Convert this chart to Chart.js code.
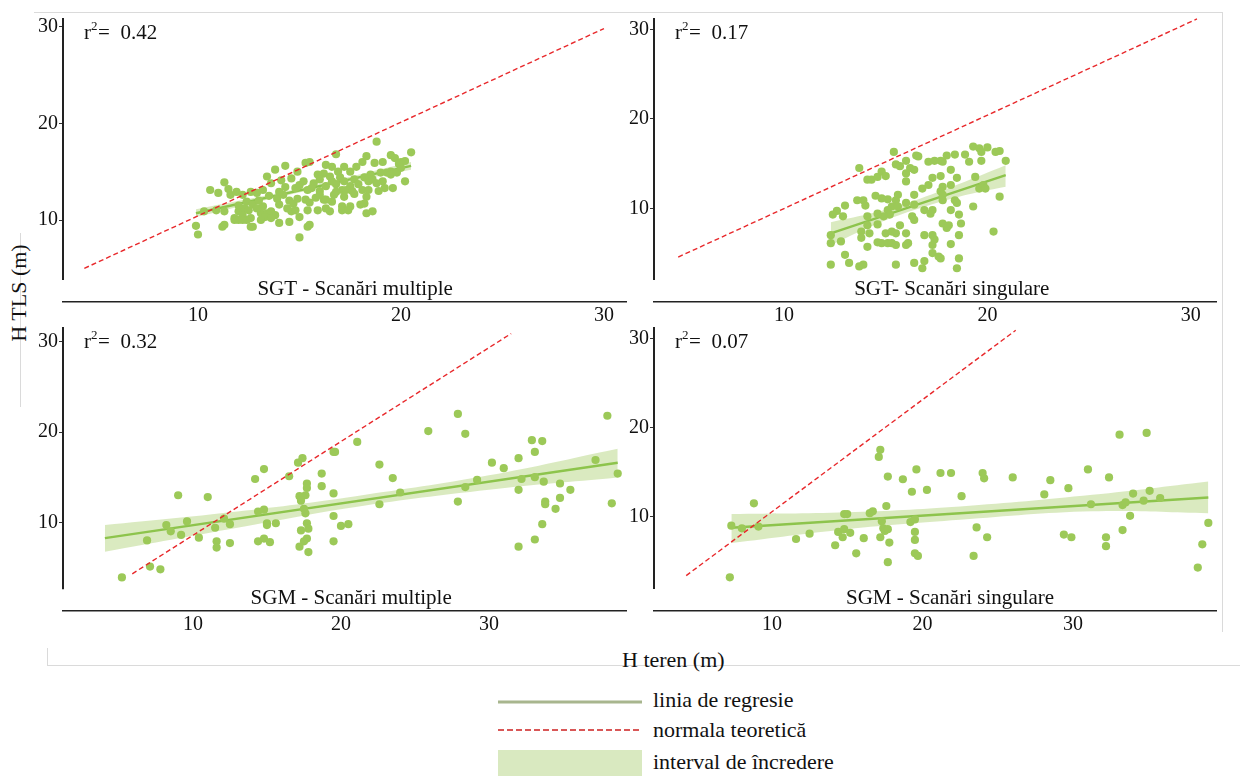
<!DOCTYPE html>
<html lang="ro">
<head>
<meta charset="UTF-8">
<title>H TLS vs H teren</title>
<script src="https://cdn.jsdelivr.net/npm/chart.js"></script>
<style>
  body {
    margin: 0;
    width: 1240px;
    height: 776px;
    position: relative;
    overflow: hidden;
    background: #fff;
    font-family: 'Liberation Serif', serif;
    color: #111;
  }
  .panel { position: absolute; }
  .rule { position: absolute; background: #dadada; }
  .txt { position: absolute; white-space: nowrap; font-size: 22px; line-height: 22px; }
  #yTitle { width: 140px; text-align: center; transform: rotate(-90deg); }
  .swatch { position: absolute; }
</style>
</head>
<body>

<!-- faint frame lines around the figure -->
<div class="rule" style="left:34px; top:12px; width:1188px; height:1px;"></div>
<div class="rule" style="left:1222px; top:12px; width:1px; height:620px;"></div>
<div class="rule" style="left:47px; top:665px; width:1193px; height:1px;"></div>
<div class="rule" style="left:47px; top:648px; width:1px; height:17px;"></div>
<div class="rule" style="left:20px; top:233px; width:1px; height:174px;"></div>

<div class="txt" id="yTitle" style="left:-51px; top:282px;">H TLS (m)</div>
<div class="txt" style="left:622px; top:649px;">H teren (m)</div>

<!-- legend -->
<svg class="swatch" style="left:498px; top:690px;" width="144" height="50">
  <line x1="0" y1="12" x2="144" y2="12" stroke="#a8b68e" stroke-width="3"/>
  <line x1="0" y1="40" x2="144" y2="40" stroke="#d95757" stroke-width="2" stroke-dasharray="6 3"/>
</svg>
<div class="swatch" style="left:498px; top:750px; width:144px; height:26px; background:#d9e9c0;"></div>
<div class="txt" style="left:653px; top:689px;">linia de regresie</div>
<div class="txt" style="left:653px; top:719px;">normala teoretică</div>
<div class="txt" style="left:653px; top:751px;">interval de încredere</div>

<script>
// ---- data (heights in metres) ----
const tickValues = [10, 20, 30];
const panelTitles = ['SGT - Scanări multiple', 'SGT- Scanări singulare', 'SGM - Scanări multiple', 'SGM - Scanări singulare'];
const rSquared = ['0.42', '0.17', '0.32', '0.07'];

// SGT, multiple scans: [H teren, H TLS]
const sgtMultiPoints = [
  [9.9,9.4],[10.0,8.5],[10.6,13.1],[11.0,12.8],[11.3,13.9],[11.5,13.2],[11.6,12.6],[11.2,9.3],[11.3,9.5],[10.3,10.9],
  [10.9,11.0],[11.3,10.9],[11.8,10.2],[12.0,10.9],[11.9,12.9],[12.2,12.6],[12.4,11.9],[12.3,11.2],[12.2,10.5],[12.5,11.0],
  [12.6,10.2],[12.4,10.0],[12.7,9.3],[12.0,10.0],[12.6,12.9],[12.9,12.8],[13.2,13.1],[13.4,14.5],[13.8,15.2],[14.3,15.6],
  [13.6,13.8],[13.2,11.4],[13.1,10.7],[13.4,10.7],[13.6,10.9],[13.3,10.3],[13.8,10.5],[14.0,11.6],[13.9,12.2],[14.2,12.6],
  [14.3,13.4],[14.1,14.1],[14.6,14.3],[14.8,13.3],[14.5,12.0],[14.7,11.7],[14.9,12.2],[14.6,10.9],[14.8,11.0],[14.0,9.7],
  [14.5,9.8],[15.0,10.3],[15.0,8.2],[15.2,14.0],[15.3,15.9],[14.9,15.0],[15.4,13.1],[15.3,12.1],[15.4,11.0],[15.4,9.3],
  [12.7,11.6],[12.9,11.2],[11.8,10.0],[12.6,9.3],[12.2,10.0],[13.1,10.0],[13.6,10.2],
  [18.8,18.1],[16.8,16.8],[15.5,16.0],[16.3,15.7],[16.6,15.5],[16.2,14.8],[15.9,14.7],[15.7,13.8],[16.0,14.2],[16.5,14.5],
  [16.9,15.0],[17.2,15.5],[17.5,15.0],[17.8,15.5],[18.1,16.0],[18.3,16.6],[18.7,15.9],[19.1,16.0],[19.5,16.7],[19.7,16.4],
  [20.0,16.0],[20.2,16.1],[20.5,17.0],[19.5,15.0],[19.3,14.9],[19.0,14.9],[18.5,14.7],[18.2,14.4],[17.7,14.2],[17.2,14.0],
  [16.8,13.7],[16.3,13.5],[16.0,13.0],[15.8,12.3],[15.5,11.8],[16.2,12.1],[16.7,12.6],[17.1,13.1],[17.5,13.5],[17.9,13.7],
  [18.1,13.1],[18.4,14.0],[18.6,14.2],[19.1,14.0],[19.5,14.7],[19.8,14.9],[20.0,15.4],[20.2,14.0],[19.6,13.3],[19.2,13.3],
  [18.9,13.0],[18.4,13.1],[18.3,12.4],[17.7,12.7],[17.3,13.1],[17.2,12.4],[16.8,12.9],[16.6,11.9],[16.3,12.1],[15.9,11.0],
  [16.3,11.2],[17.1,11.4],[17.5,11.4],[18.0,11.6],[18.2,11.7],[17.1,11.0],[17.4,11.0],[16.5,10.9],[18.3,10.7],[18.6,10.9],
  [15.5,9.5],[14.0,12.9],[15.0,13.6],[16.0,12.6],[17.0,14.4],[13.0,12.0],[14.4,11.2],[15.6,13.3],[16.6,14.0],[17.6,13.0],
  [18.8,13.8],[19.9,15.8],[12.0,11.5],[13.5,12.5]
];

// SGT, single scans
const sgtSinglePoints = [
  [15.4,16.3],[13.7,14.5],[14.1,13.2],[14.3,13.2],[14.6,13.5],[14.8,14.1],[15.0,13.6],[15.5,14.9],[15.7,14.7],[16.0,15.3],
  [16.2,14.5],[16.4,14.3],[16.5,15.9],[16.6,15.8],[16.0,13.9],[16.0,13.0],[17.1,15.2],[17.4,15.3],[17.7,15.3],[17.8,15.2],
  [18.0,15.9],[18.4,16.0],[18.9,16.0],[17.3,13.4],[17.7,13.6],[18.2,14.3],[18.5,13.4],[18.2,12.6],[17.8,12.4],[17.7,11.9],
  [17.1,12.6],[16.8,12.2],[16.4,11.5],[15.6,11.5],[15.5,10.9],[15.1,11.0],[14.8,11.1],[14.5,11.4],[13.9,10.9],[13.6,10.9],
  [13.0,10.3],[12.6,9.7],[12.9,9.1],[12.4,9.3],[15.3,10.2],[15.6,10.2],[16.0,10.6],[15.1,9.8],[15.2,9.3],[14.9,9.1],
  [14.6,9.4],[14.1,9.1],[14.6,8.2],[14.1,8.1],[16.4,10.4],[16.4,8.7],[16.3,9.1],[16.9,9.8],[17.2,9.4],[17.3,9.8],
  [17.8,11.5],[17.8,10.9],[18.4,10.9],[18.5,10.6],[18.2,9.8],[18.6,9.3],[18.7,8.3],[17.8,8.3],[18.0,7.8],[18.1,8.1],
  [18.6,7.0],[19.3,10.2],[19.4,13.5],[19.6,12.2],[19.8,12.6],[19.9,12.2],[19.3,16.9],[19.6,16.7],[19.7,16.3],[20.0,16.8],
  [20.4,16.3],[20.6,16.4],[19.7,15.3],[20.9,15.3],[20.6,11.3],[20.3,7.4],[14.0,10.3],[12.3,7.0],[12.3,6.1],[12.8,6.3],
  [13.8,7.4],[13.8,6.7],[14.1,5.7],[14.6,6.2],[14.8,6.1],[15.1,6.1],[15.3,6.1],[15.5,5.9],[15.0,7.2],[15.3,7.4],
  [15.5,7.2],[15.7,8.1],[16.0,7.2],[16.0,5.9],[16.1,6.1],[16.9,7.0],[17.3,7.0],[17.4,6.5],[17.3,5.9],[18.2,6.0],
  [17.3,5.0],[17.6,4.6],[17.7,4.4],[18.6,4.4],[18.5,3.3],[13.0,4.8],[12.3,3.7],[13.2,3.9],[13.7,3.5],[13.9,3.7],
  [15.5,3.7],[16.4,3.9],[16.8,3.3],[16.9,4.1],[14.2,7.2],[19.1,15.2]
];

// SGM, multiple scans
const sgmMultiPoints = [
  [5.2,3.9],[7.1,5.1],[7.8,4.8],[6.9,8.0],[8.2,9.7],[8.5,9.0],[9.0,13.0],[9.2,8.6],[9.6,10.1],[10.4,8.3],
  [11.0,12.8],[11.5,9.4],[11.6,7.9],[11.6,7.2],[12.1,10.4],[12.5,9.8],[12.5,7.7],[14.2,14.8],[14.8,15.9],[14.4,11.2],
  [14.8,11.4],[14.4,7.9],[14.8,8.2],[15.2,7.8],[15.0,9.9],[15.0,9.7],[15.6,9.9],[16.5,15.1],[17.1,16.6],[17.4,17.1],
  [17.7,14.3],[17.7,13.8],[17.6,13.0],[17.2,12.9],[17.3,12.4],[17.5,11.5],[17.6,11.0],[17.7,9.9],[17.8,9.3],[17.3,9.1],
  [17.7,8.2],[17.5,7.9],[17.2,7.3],[17.8,6.7],[18.7,15.4],[18.7,14.0],[19.5,17.8],[19.6,17.8],[19.5,13.2],[19.5,10.7],
  [19.5,7.9],[20.0,9.6],[20.5,9.8],[21.1,18.9],[22.6,16.4],[23.5,14.9],[22.6,12.0],[24.0,13.3],[25.9,20.1],[27.9,22.0],
  [28.4,19.8],[27.9,12.3],[28.4,13.9],[29.2,14.7],[30.2,16.6],[31.0,16.0],[32.0,17.1],[32.9,19.1],[33.6,19.0],[33.1,17.8],
  [32.2,14.8],[33.1,15.0],[32.0,13.6],[33.7,14.5],[33.8,12.3],[33.8,12.0],[34.5,11.5],[34.8,14.3],[34.8,12.7],[35.5,13.6],
  [33.6,9.8],[33.1,8.1],[32.0,7.3],[37.2,16.9],[38.0,21.8],[38.7,15.4],[38.3,12.1]
];

// SGM, single scans
const sgmSinglePoints = [
  [7.2,3.2],[7.3,9.0],[8.0,8.7],[8.8,11.5],[9.1,8.9],[11.6,7.5],[12.5,8.1],[14.2,6.8],[14.4,8.3],[14.8,8.6],
  [14.7,7.7],[14.8,10.3],[15.0,10.3],[15.2,8.2],[15.6,5.9],[16.1,7.6],[16.5,10.4],[16.7,10.6],[17.1,16.7],[17.2,17.5],
  [17.6,11.2],[17.7,14.5],[17.3,9.5],[17.4,8.7],[17.5,8.4],[17.7,8.6],[17.2,7.7],[17.8,7.1],[17.7,4.9],[18.7,14.2],
  [19.3,12.8],[19.6,15.3],[19.2,9.4],[19.5,9.7],[19.5,8.3],[19.5,7.4],[19.5,5.9],[19.7,5.6],[20.3,13.0],[21.2,14.9],
  [21.9,14.9],[22.6,12.3],[23.6,8.8],[23.4,5.6],[24.3,7.7],[24.0,14.9],[24.1,14.3],[26.0,14.4],[28.1,12.5],[28.5,14.1],
  [29.4,8.0],[29.9,7.7],[29.7,13.2],[31.0,15.3],[31.2,11.4],[32.4,14.4],[32.2,7.7],[32.2,6.7],[33.1,19.2],[34.9,19.4],
  [33.3,11.3],[33.5,11.6],[34.0,12.6],[33.3,8.5],[33.8,10.1],[34.7,11.8],[35.1,12.9],[35.8,12.1],[39.0,9.3],[38.6,6.9],
  [38.3,4.3]
];

// regression lines (end points) and confidence bands
const sgtMultiFitX = [9.9, 20.5];
const sgtMultiFitY = [10.7, 15.6];
const sgtMultiBandX = [9.9, 15.2, 20.5];
const sgtMultiBandLo = [10.3, 12.95, 15.2];
const sgtMultiBandHi = [11.1, 13.35, 16.0];

const sgtSingleFitX = [12.3, 20.9];
const sgtSingleFitY = [7.2, 13.7];
const sgtSingleBandX = [12.3, 14.5, 16.4, 18.6, 20.9];
const sgtSingleBandLo = [5.9, 8.2, 9.8, 11.3, 12.4];
const sgtSingleBandHi = [8.45, 9.55, 10.85, 12.7, 14.8];

const sgmMultiFitX = [4.05, 38.7];
const sgmMultiFitY = [8.25, 16.6];
const sgmMultiBandX = [4.05, 13, 21, 30, 38.7];
const sgmMultiBandLo = [6.75, 9.4, 11.7, 13.6, 14.95];
const sgmMultiBandHi = [9.7, 11.2, 12.9, 15.2, 18.15];

const sgmSingleFitX = [7.3, 39.0];
const sgmSingleFitY = [8.75, 12.15];
const sgmSingleBandX = [7.3, 15, 22.5, 31.3, 39.0];
const sgmSingleBandLo = [7.05, 8.6, 9.65, 10.6, 10.4];
const sgmSingleBandHi = [10.3, 10.5, 11.15, 12.45, 13.95];

// theoretical 1:1 lines
const sgtMultiRefX = [4.4, 30.0];
const sgtMultiRefY = [5.0, 29.8];
const sgtSingleRefX = [4.8, 30.3];
const sgtSingleRefY = [4.55, 31.15];
const sgmMultiRefX = [5.9, 31.5];
const sgmMultiRefY = [4.3, 30.9];
const sgmSingleRefX = [4.3, 26.2];
const sgmSingleRefY = [3.4, 30.9];

// ---- layout: plot rectangles in page pixels and axis ranges ----
const YW = 60, PT = 16, PR = 4, XH = 34;

const panels = [
  { left: 63, top: 18, right: 627, bottom: 302, xMin: 3.35, xMax: 31.13, yMin: 1.52, yMax: 30.89, axisEnd: 3.8, titleX: 0.518,
    points: sgtMultiPoints, fitX: sgtMultiFitX, fitY: sgtMultiFitY, bandX: sgtMultiBandX, bandLo: sgtMultiBandLo, bandHi: sgtMultiBandHi,
    refX: sgtMultiRefX, refY: sgtMultiRefY },
  { left: 654, top: 18, right: 1217, bottom: 302, xMin: 3.61, xMax: 31.28, yMin: -0.47, yMax: 31.26, axisEnd: 2.0, titleX: 0.529,
    points: sgtSinglePoints, fitX: sgtSingleFitX, fitY: sgtSingleFitY, bandX: sgtSingleBandX, bandLo: sgtSingleBandLo, bandHi: sgtSingleBandHi,
    refX: sgtSingleRefX, refY: sgtSingleRefY },
  { left: 63, top: 327, right: 627, bottom: 611, xMin: 1.22, xMax: 39.32, yMin: 0.18, yMax: 31.63, axisEnd: 2.6, titleX: 0.511,
    points: sgmMultiPoints, fitX: sgmMultiFitX, fitY: sgmMultiFitY, bandX: sgmMultiBandX, bandLo: sgmMultiBandLo, bandHi: sgmMultiBandHi,
    refX: sgmMultiRefX, refY: sgmMultiRefY },
  { left: 654, top: 327, right: 1217, bottom: 611, xMin: 2.16, xMax: 39.57, yMin: -0.57, yMax: 31.27, axisEnd: 1.9, titleX: 0.526,
    points: sgmSinglePoints, fitX: sgmSingleFitX, fitY: sgmSingleFitY, bandX: sgmSingleBandX, bandLo: sgmSingleBandLo, bandHi: sgmSingleBandHi,
    refX: sgmSingleRefX, refY: sgmSingleRefY }
];

const FONT = "'Liberation Serif', serif";
const zip = (xs, ys) => xs.map((x, i) => ({ x: x, y: ys[i] }));

// draws the shortened y axis line, the facet label and the r² note
const panelDecor = {
  id: 'panelDecor',
  afterDraw(chart, args, opts) {
    const ctx = chart.ctx;
    const a = chart.chartArea;
    const y = chart.scales.y;
    ctx.save();
    ctx.strokeStyle = '#222';
    ctx.lineWidth = 2;
    ctx.beginPath();
    ctx.moveTo(a.left, a.top);
    ctx.lineTo(a.left, y.getPixelForValue(opts.axisEnd));
    ctx.stroke();

    ctx.fillStyle = '#111';
    ctx.textBaseline = 'alphabetic';
    ctx.textAlign = 'center';
    ctx.font = '21px ' + FONT;
    ctx.fillText(opts.title, a.left + a.width * opts.titleX, a.bottom - 7);

    ctx.textAlign = 'left';
    const bx = a.left + 21, by = a.top + 21;
    ctx.fillText('r', bx, by);
    const rw = ctx.measureText('r').width;
    ctx.font = '13px ' + FONT;
    ctx.fillText('2', bx + rw, by - 9);
    ctx.font = '21px ' + FONT;
    ctx.fillText('=', bx + rw + 7, by);
    ctx.fillText(opts.r2, bx + 36.5, by);
    ctx.restore();
  }
};

panels.forEach((p, i) => {
  const w = p.right - p.left, h = p.bottom - p.top;
  const box = document.createElement('div');
  box.className = 'panel';
  box.style.left = (p.left - YW) + 'px';
  box.style.top = (p.top - PT) + 'px';
  box.style.width = (YW + w + PR) + 'px';
  box.style.height = (PT + h + XH) + 'px';
  const canvas = document.createElement('canvas');
  box.appendChild(canvas);
  document.body.appendChild(box);

  new Chart(canvas, {
    type: 'scatter',
    data: {
      datasets: [
        { data: zip(p.refX, p.refY), showLine: true, borderColor: '#e8282b', borderWidth: 1.4,
          borderDash: [5, 3], pointRadius: 0, order: 0 },
        { data: p.points.map(d => ({ x: d[0], y: d[1] })), pointRadius: 4.1,
          pointBackgroundColor: '#9cc958', pointBorderWidth: 0, order: 1 },
        { data: zip(p.fitX, p.fitY), showLine: true, borderColor: '#8dc44c', borderWidth: 2.5,
          pointRadius: 0, order: 2 },
        { data: zip(p.bandX, p.bandHi), showLine: true, borderWidth: 0, pointRadius: 0, tension: 0.4,
          fill: '+1', backgroundColor: 'rgba(166, 206, 104, 0.42)', order: 3 },
        { data: zip(p.bandX, p.bandLo), showLine: true, borderWidth: 0, pointRadius: 0, tension: 0.4, order: 4 }
      ]
    },
    options: {
      responsive: true,
      maintainAspectRatio: false,
      animation: false,
      events: [],
      layout: { padding: { top: PT, right: PR, left: 0, bottom: 0 } },
      plugins: {
        legend: { display: false },
        tooltip: { enabled: false },
        panelDecor: { title: panelTitles[i], r2: rSquared[i], axisEnd: p.axisEnd, titleX: p.titleX }
      },
      scales: {
        x: {
          type: 'linear', min: p.xMin, max: p.xMax,
          afterBuildTicks: s => { s.ticks = tickValues.map(v => ({ value: v })); },
          afterFit: s => { s.height = XH; },
          grid: { display: false, drawTicks: false, tickLength: 0 },
          border: { display: true, color: '#222', width: 1.5 },
          ticks: { color: '#111', padding: 2, maxRotation: 0, font: { family: FONT, size: 20 } }
        },
        y: {
          type: 'linear', min: p.yMin, max: p.yMax,
          afterBuildTicks: s => { s.ticks = tickValues.map(v => ({ value: v })); },
          afterFit: s => { s.width = YW; },
          grid: { display: true, drawOnChartArea: false, drawTicks: true, tickLength: 4, color: '#333', lineWidth: 1 },
          border: { display: false },
          ticks: { color: '#111', padding: 1, font: { family: FONT, size: 20 } }
        }
      }
    },
    plugins: [panelDecor]
  });
});
</script>
</body>
</html>
